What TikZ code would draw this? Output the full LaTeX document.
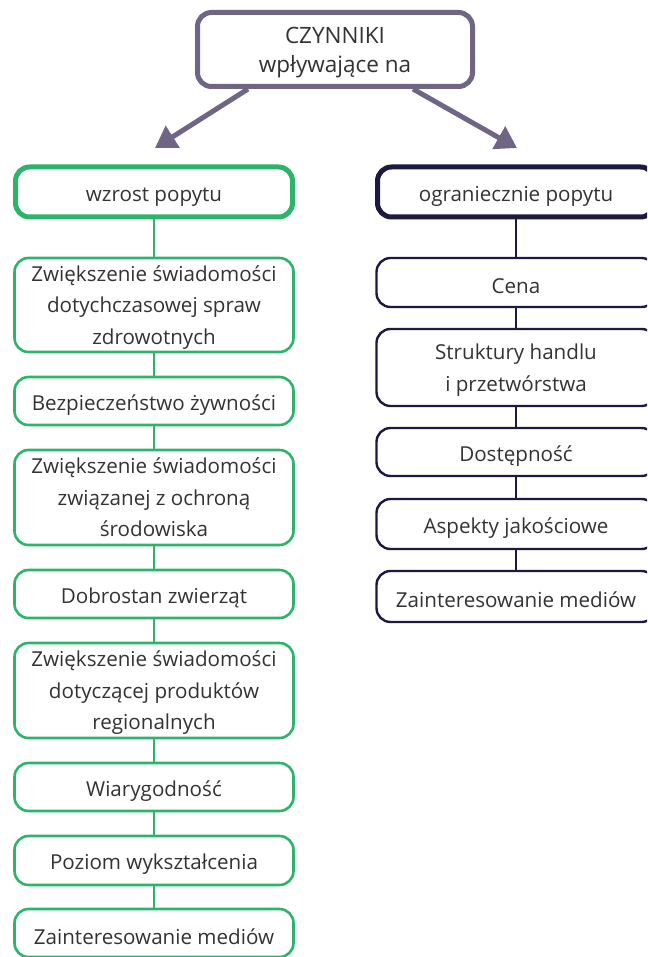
\documentclass[tikz,border=0pt]{standalone}
\usepackage{fontspec}
\setmainfont{Open Sans}
\usetikzlibrary{arrows.meta,calc}
\definecolor{topc}{HTML}{6F6585}
\definecolor{grn}{HTML}{2BB46A}
\definecolor{navy}{HTML}{1D1A42}
\definecolor{txt}{HTML}{333333}
\begin{document}
\begin{tikzpicture}[x=1pt,y=-1pt,
  base/.style={rectangle,rounded corners=14pt,inner sep=0pt,align=center,
    text=txt,font=\fontsize{20.6}{31.5}\selectfont,fill=white,
    execute at begin node={\rule{0pt}{23pt}}},
  ml/.style={text depth=-2pt},
  topbox/.style={base,draw=topc,line width=5pt,minimum width=275pt,minimum height=74pt,
    font=\fontsize{22.5}{29}\selectfont,text depth=0pt},
  ghead/.style={base,draw=grn,line width=5pt,minimum width=277pt,minimum height=50pt},
  gbox/.style={base,draw=grn,line width=2.6pt,minimum width=279pt},
  nhead/.style={base,draw=navy,line width=5pt,minimum width=277pt,minimum height=50pt},
  nbox/.style={base,draw=navy,line width=2.4pt,minimum width=279pt},
  glink/.style={draw=grn,line width=2.6pt},
  nlink/.style={draw=navy,line width=2.4pt},
  arr/.style={draw=topc,fill=topc,line width=5pt,-{Triangle[length=21pt,width=25pt]}}
]
\useasboundingbox (0,0) rectangle (647,957);
\clip (0,0) rectangle (647,957);
\fill[white] (0,0) rectangle (647,957);

\node[topbox] (top) at (335,49.5) {CZYNNIKI\\wpływające na};
\coordinate (tipL) at (155,148);
\coordinate (tipR) at (517,148);

% left column
\node[ghead] (hL) at (154,192) {wzrost popytu};
\node[gbox,ml,minimum height=94pt] (L1) at (154,305) {Zwiększenie świadomości\\dotychczasowej spraw\\zdrowotnych};
\node[gbox,minimum height=48pt] (L2) at (154,401) {Bezpieczeństwo żywności};
\node[gbox,ml,minimum height=95pt] (L3) at (154,497.5) {Zwiększenie świadomości\\związanej z ochroną\\środowiska};
\node[gbox,minimum height=48pt] (L4) at (154,594) {Dobrostan zwierząt};
\node[gbox,ml,minimum height=95pt] (L5) at (154,690.5) {Zwiększenie świadomości\\dotyczącej produktów\\regionalnych};
\node[gbox,minimum height=48pt] (L6) at (154,787) {Wiarygodność};
\node[gbox,minimum height=49pt] (L7) at (154,860.5) {Poziom wykształcenia};
\node[gbox,minimum height=48pt] (L8) at (154,933) {Zainteresowanie mediów};

% right column
\node[nhead] (hR) at (516,192) {ograniecznie popytu};
\node[nbox,minimum height=49pt] (R1) at (516,282.5) {Cena};
\node[nbox,ml,minimum height=77pt] (R2) at (516,367.5) {Struktury handlu\\i przetwórstwa};
\node[nbox,minimum height=48pt] (R3) at (516,452) {Dostępność};
\node[nbox,minimum height=50pt] (R4) at (516,524) {Aspekty jakościowe};
\node[nbox,minimum height=51pt] (R5) at (516,596.5) {Zainteresowanie mediów};

% connectors
\draw[glink] (hL) -- (L1);
\draw[glink] (L1) -- (L2);
\draw[glink] (L2) -- (L3);
\draw[glink] (L3) -- (L4);
\draw[glink] (L4) -- (L5);
\draw[glink] (L5) -- (L6);
\draw[glink] (L6) -- (L7);
\draw[glink] (L7) -- (L8);
\draw[nlink] (hR) -- (R1);
\draw[nlink] (R1) -- (R2);
\draw[nlink] (R2) -- (R3);
\draw[nlink] (R3) -- (R4);
\draw[nlink] (R4) -- (R5);

\draw[arr] ($(top.south)+(-87,0)$) -- (tipL);
\draw[arr] ($(top.south)+(78,0)$) -- (tipR);
\end{tikzpicture}
\end{document}
